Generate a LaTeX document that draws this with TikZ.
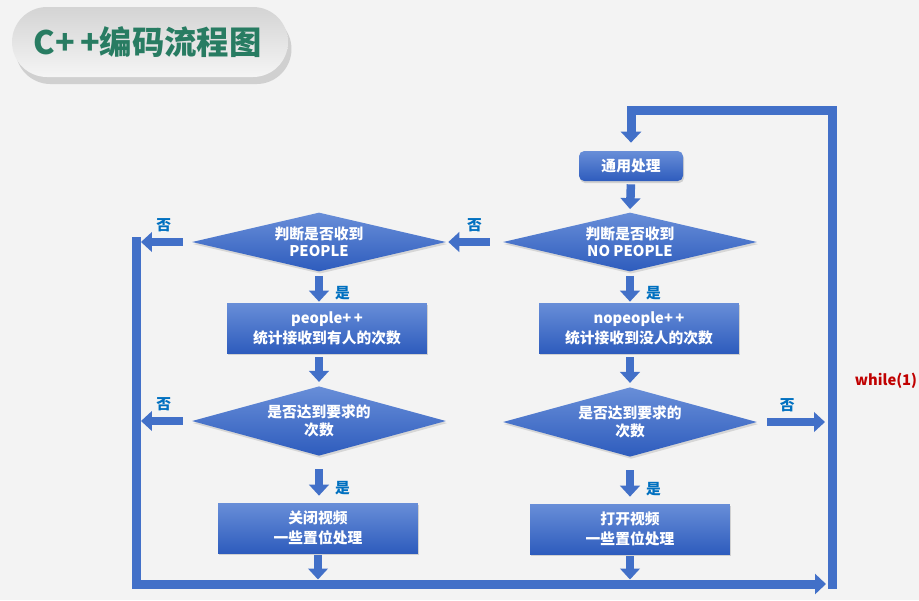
\documentclass[tikz,border=0pt]{standalone}
\usepackage{fontspec}
\setmainfont{Noto Sans CJK SC}
\usepackage{tikz}
\usetikzlibrary{shapes.geometric,shadows,arrows.meta,calc,positioning}
\definecolor{bggray}{RGB}{243,243,243}
\definecolor{flowblue}{RGB}{66,112,200}
\definecolor{boxtop}{RGB}{104,142,216}
\definecolor{boxbot}{RGB}{46,92,189}
\definecolor{yesno}{RGB}{0,112,192}
\definecolor{titlegreen}{RGB}{40,124,98}
\definecolor{darkred}{RGB}{192,0,0}

\begin{document}
\begin{tikzpicture}[x=0.02cm,y=-0.02cm,
    procbox/.style={rectangle, top color=boxtop, bottom color=boxbot, inner sep=0pt,
        minimum width=4cm, minimum height=1cm, text=white, align=center,
        font=\bfseries\fontsize{8.4}{11.3}\selectfont,
        drop shadow={shadow xshift=0.6pt, shadow yshift=-1.2pt, opacity=0.3}},
    decision/.style={diamond, top color=boxtop, bottom color=boxbot, inner sep=0pt,
        minimum width=5.08cm, minimum height=1.18cm,
        drop shadow={shadow xshift=0.6pt, shadow yshift=-1.2pt, opacity=0.25}},
    dtext/.style={text=white, align=center, font=\bfseries\fontsize{8.4}{9.8}\selectfont},
    flow/.style={draw=flowblue, line width=0.17cm, -{Triangle[width=0.39cm,length=0.22cm]}},
    loopbar/.style={draw=flowblue, line width=0.18cm, line join=miter},
    yes/.style={text=yesno, inner sep=1pt, font=\bfseries\fontsize{8.4}{10}\selectfont},
    no/.style={yes}]
    \useasboundingbox (0,0) rectangle (919,600);
    %Shade
    \fill[bggray] (0,0) rectangle (919,600);
    %Title
    \node[rounded corners=0.7cm, minimum width=5.52cm, minimum height=1.4cm,
        top color=black!17, bottom color=white!96!black,
        drop shadow={shadow xshift=2pt, shadow yshift=-4pt, opacity=0.3},
        text=titlegreen, font=\bfseries\fontsize{18.4}{20}\selectfont]
        (title) at (150,42) {\hspace*{-0.1cm}C+\,+编码流程图};

    %Draw nodes
    \node[procbox, rounded corners=3pt, minimum width=2.08cm, minimum height=0.6cm]
        (tong) at (631,166) {通用处理};
    \node[decision, label={[dtext]center:{判断是否收到\\NO PEOPLE}}] (npd) at (630,242) {};
    \node[decision, label={[dtext]center:{判断是否收到\\PEOPLE}}] (pd) at (319,242) {};
    \node[procbox] (pbox) at (327,328) {people+\,+\\统计接收到有人的次数};
    \node[procbox] (npbox) at (639,328) {nopeople+\,+\\统计接收到没人的次数};
    \node[decision, minimum height=1.39cm, label={[dtext]center:{是否达到要求的\\次数}}]
        (pd2) at (319,421) {};
    \node[decision, minimum height=1.39cm, label={[dtext]center:{是否达到要求的\\次数}}]
        (npd2) at (630,422) {};
    \node[procbox] (pclose) at (318,528) {关闭视频\\一些置位处理};
    \node[procbox] (nopen) at (630,529) {打开视频\\一些置位处理};
    \node[text=darkred, font=\bfseries\fontsize{8.4}{10}\selectfont] (while) at (886,381) {while(1)};

    %Loop bars
    \coordinate (barTL) at (136,237);
    \coordinate (barBL) at (136,584);
    \coordinate (barEnd) at (826,584);
    \coordinate (barBR) at (832,589);
    \coordinate (barTR) at (832,110);
    \coordinate (barTop) at (barTR -| tong.north);
    \draw[loopbar, -{Triangle[width=0.4cm,length=0.22cm]}] (barTL) -- (barBL) -- (barEnd);
    \draw[loopbar, shorten >=0.16cm, -{Triangle[width=0.4cm,length=0.22cm]}]
        (barBR) -- (barTR) -- (barTop) -- (tong.north);

    %Draw edges
    \draw[flow, shorten <=0.06cm, shorten >=0.06cm] (tong.south) -- (npd.north);
    \draw[flow, shorten <=0.26cm, shorten >=0.04cm] (npd.west) -- (pd.east)
        node[no, midway, above=0.08cm] {否};
    \draw[flow, shorten <=0.18cm, shorten >=0.1cm] (pd.west) -- (pd.west -| barTL)
        node[no, midway, above=0.08cm] {否};
    \draw[flow, shorten <=0.08cm, shorten >=0.02cm] (pd.south) -- (pd.south |- pbox.north)
        node[yes, pos=0.68, right=0.2cm] {是};
    \draw[flow, shorten <=0.08cm, shorten >=0.08cm] (pd2.north |- pbox.south) -- (pd2.north);
    \draw[flow, shorten <=0.18cm, shorten >=0.1cm] (pd2.west) -- (pd2.west -| barTL)
        node[no, midway, above=0.08cm] {否};
    \draw[flow, shorten <=0.26cm, shorten >=0.14cm] (pd2.south) -- (pd2.south |- pclose.north)
        node[yes, pos=0.68, right=0.2cm] {是};
    \draw[flow, shorten <=0.04cm, shorten >=0.09cm] (pclose.south) -- (pclose.south |- barBL);

    \draw[flow, shorten <=0.08cm, shorten >=0.02cm] (npd.south) -- (npd.south |- npbox.north)
        node[yes, pos=0.68, right=0.2cm] {是};
    \draw[flow, shorten <=0.08cm, shorten >=0.08cm] (npd2.north |- npbox.south) -- (npd2.north);
    \draw[flow, shorten <=0.2cm, shorten >=0.14cm] (npd2.east) -- (npd2.east -| barTR)
        node[no, pos=0.4, above=0.08cm] {否};
    \draw[flow, shorten <=0.26cm, shorten >=0.14cm] (npd2.south) -- (npd2.south |- nopen.north)
        node[yes, pos=0.68, right=0.2cm] {是};
    \draw[flow, shorten <=0.04cm, shorten >=0.09cm] (nopen.south) -- (nopen.south |- barBL);
\end{tikzpicture}
\end{document}
